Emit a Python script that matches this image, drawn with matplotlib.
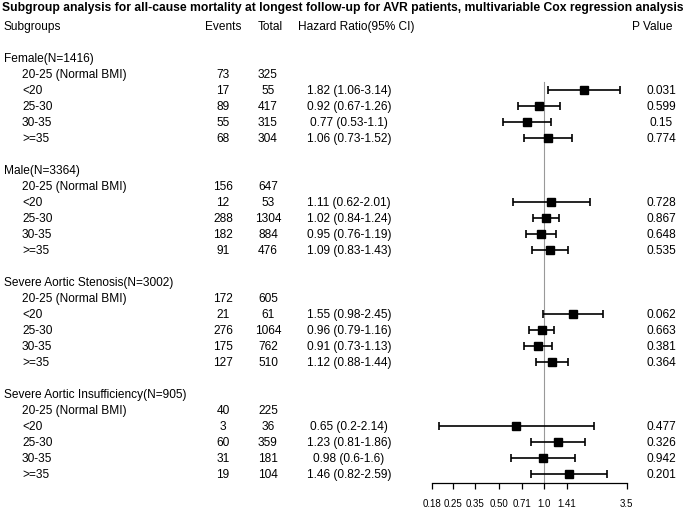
import numpy as np
import matplotlib
matplotlib.use('Agg')
import matplotlib.pyplot as plt
from matplotlib import transforms
from matplotlib.ticker import NullLocator

plt.rcParams['font.family'] = ['Liberation Sans', 'DejaVu Sans']

# data
groups = ['Female(N=1416)', 'Male(N=3364)',
          'Severe Aortic Stenosis(N=3002)', 'Severe Aortic Insufficiency(N=905)']
bmi_cats = ['20-25 (Normal BMI)', '<20', '25-30', '30-35', '>=35']

events = [[73, 17, 89, 55, 68],
          [156, 12, 288, 182, 91],
          [172, 21, 276, 175, 127],
          [40, 3, 60, 31, 19]]
totals = [[325, 55, 417, 315, 304],
          [647, 53, 1304, 884, 476],
          [605, 61, 1064, 762, 510],
          [225, 36, 359, 181, 104]]

# hazard ratios for <20, 25-30, 30-35, >=35 (20-25 is reference)
hr = [[1.82, 0.92, 0.77, 1.06],
      [1.11, 1.02, 0.95, 1.09],
      [1.55, 0.96, 0.91, 1.12],
      [0.65, 1.23, 0.98, 1.46]]
ci_low = [[1.06, 0.67, 0.53, 0.73],
          [0.62, 0.84, 0.76, 0.83],
          [0.98, 0.79, 0.73, 0.88],
          [0.2, 0.81, 0.6, 0.82]]
ci_high = [[3.14, 1.26, 1.1, 1.52],
           [2.01, 1.24, 1.19, 1.43],
           [2.45, 1.16, 1.13, 1.44],
           [2.14, 1.86, 1.6, 2.59]]
hr_labels = [['1.82 (1.06-3.14)', '0.92 (0.67-1.26)', '0.77 (0.53-1.1)', '1.06 (0.73-1.52)'],
             ['1.11 (0.62-2.01)', '1.02 (0.84-1.24)', '0.95 (0.76-1.19)', '1.09 (0.83-1.43)'],
             ['1.55 (0.98-2.45)', '0.96 (0.79-1.16)', '0.91 (0.73-1.13)', '1.12 (0.88-1.44)'],
             ['0.65 (0.2-2.14)', '1.23 (0.81-1.86)', '0.98 (0.6-1.6)', '1.46 (0.82-2.59)']]
p_values = [['0.031', '0.599', '0.15', '0.774'],
            ['0.728', '0.867', '0.648', '0.535'],
            ['0.062', '0.663', '0.381', '0.364'],
            ['0.477', '0.326', '0.942', '0.201']]

tick_vals = [0.18, 0.25, 0.35, 0.50, 0.71, 1.0, 1.41, 3.5]
tick_labels = ['0.18', '0.25', '0.35', '0.50', '0.71', '1.0', '1.41', '3.5']

W, H = 685, 510
fig = plt.figure(figsize=(W / 100, H / 100), dpi=100)
ax = fig.add_axes([431.7 / W, 0, 195 / W, 1])
ax.set_xscale('log')
ax.set_xlim(0.18, 3.5)
ax.set_ylim(28.19, -3.67)
ax.patch.set_visible(False)

# text positions: x in figure fraction, y in row units
tr = transforms.blended_transform_factory(fig.transFigure, ax.transData)
def fx(px):
    return px / W

fs = 8.6
title = ax.text(fx(342.5), -3.15, 'Subgroup analysis for all-cause mortality at longest follow-up for AVR patients, '
                'multivariable Cox regression analysis', transform=tr, ha='center', va='center',
                fontsize=8.9, fontweight='bold', clip_on=False)
# shrink the title so it spans the width like the original
fig.canvas.draw()
tw = title.get_window_extent().width
title.set_fontsize(8.9 * 680 / tw)

ax.text(fx(4), -1.98, 'Subgroups', transform=tr, ha='left', va='center', fontsize=fs)
ax.text(fx(223.5), -1.98, 'Events', transform=tr, ha='center', va='center', fontsize=fs)
ax.text(fx(270), -1.98, 'Total', transform=tr, ha='center', va='center', fontsize=fs)
ax.text(fx(298), -1.98, 'Hazard Ratio(95% CI)', transform=tr, ha='left', va='center', fontsize=fs)
ax.text(fx(652), -1.98, 'P Value', transform=tr, ha='center', va='center', fontsize=fs)

for g, name in enumerate(groups):
    r0 = g * 7
    ax.text(fx(4), r0, name, transform=tr, ha='left', va='center', fontsize=fs)
    for k, cat in enumerate(bmi_cats):
        r = r0 + 1 + k
        ax.text(fx(22), r, cat, transform=tr, ha='left', va='center', fontsize=fs)
        ax.text(fx(223), r, str(events[g][k]), transform=tr, ha='center', va='center', fontsize=fs)
        ax.text(fx(268), r, str(totals[g][k]), transform=tr, ha='center', va='center', fontsize=fs)
    rows = np.arange(r0 + 2, r0 + 6)
    h = np.array(hr[g])
    err = [h - np.array(ci_low[g]), np.array(ci_high[g]) - h]
    ax.errorbar(h, rows, xerr=err, fmt='s', color='black', ms=5.5, lw=1.2,
                capsize=3, capthick=1.2, clip_on=False, zorder=3)
    for k in range(4):
        ax.text(fx(349), rows[k], hr_labels[g][k], transform=tr, ha='center', va='center', fontsize=fs)
        ax.text(fx(661), rows[k], p_values[g][k], transform=tr, ha='center', va='center', fontsize=fs)

# reference line at HR = 1
ax.plot([1, 1], [1.5, 26.54], color='#999999', lw=0.8, zorder=1)

for s in ['top', 'left', 'right']:
    ax.spines[s].set_visible(False)
ax.spines['bottom'].set_position(('data', 26.54))
ax.spines['bottom'].set_bounds(0.18, 3.5)
ax.spines['bottom'].set_linewidth(0.9)
ax.set_yticks([])
ax.xaxis.set_minor_locator(NullLocator())
ax.set_xticks(tick_vals)
ax.set_xticklabels(tick_labels)
ax.tick_params(axis='x', direction='out', length=4, width=0.9, pad=7, labelsize=7)

fig.savefig('out.png', dpi=100)
